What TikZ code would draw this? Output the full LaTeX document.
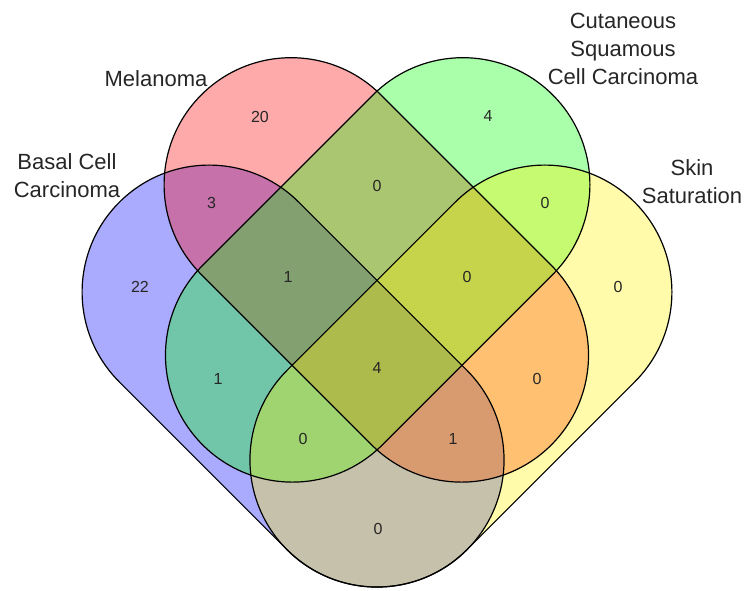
\documentclass[tikz,border=0pt]{standalone}
\usepackage{fontspec}
\setmainfont{Liberation Sans}
\usepackage{xcolor}
\usepackage{tikz}

\tikzset{
    setfill/.style={fill=#1, fill opacity=0.333},
    setline/.style={draw=black, line width=1.2pt},
    count/.style={font=\fontsize{16}{16}\selectfont, text=black!85},
    setname/.style={font=\fontsize{22}{28}\selectfont, align=center, text=black!85},
}

\begin{document}
\begin{tikzpicture}[x=1pt, y=1pt]
        \useasboundingbox (0,0) rectangle (748,590);

        % the four sets, filled in the order blue, red, green, yellow
        \foreach \cx/\cy/\ang/\len/\col in {209.1/297.9/-45/237.5/blue, 291.1/405.3/-45/241/red, 462.9/405.3/225/241/green, 544.9/297.9/225/237.5/yellow} {
            \fill[setfill=\col, shift={(\cx,\cy)}, rotate=\ang] (0,-127) -- (\len,-127) arc[start angle=-90, end angle=90, radius=127] -- (0,127) arc[start angle=90, end angle=270, radius=127] -- cycle;
        }
        \foreach \cx/\cy/\ang/\len in {209.1/297.9/-45/237.5, 291.1/405.3/-45/241, 462.9/405.3/225/241, 544.9/297.9/225/237.5} {
            \draw[setline, shift={(\cx,\cy)}, rotate=\ang] (0,-127) -- (\len,-127) arc[start angle=-90, end angle=90, radius=127] -- (0,127) arc[start angle=90, end angle=270, radius=127] -- cycle;
        }

        % set names
        \node (melanoma) [setname] at (156,511) {Melanoma};
        \node (basalCell) [setname] at (67,414) {Basal Cell\\Carcinoma};
        \node (cutaneous) [setname] at (623,541) {Cutaneous\\Squamous\\Cell Carcinoma};
        \node (skinSat) [setname] at (692,408) {Skin\\Saturation};

        % counts
        \node (onlyMel) [count] at (260,473) {20};
        \node (onlyCut) [count] at (488,474) {4};
        \node (onlyBas) [count] at (140,303) {22};
        \node (onlySkin) [count] at (618,303) {0};
        \node (melBas) [count] at (211.5,387) {3};
        \node (melCut) [count] at (377,404) {0};
        \node (cutSkin) [count] at (545,387) {0};
        \node (melCutBas) [count] at (288,313) {1};
        \node (melCutSkin) [count] at (467,313) {0};
        \node (cutBas) [count] at (218,211) {1};
        \node (allFour) [count] at (377,222) {4};
        \node (melSkin) [count] at (537,211) {0};
        \node (cutBasSkin) [count] at (303,151) {0};
        \node (melBasSkin) [count] at (453,151) {1};
        \node (basSkin) [count] at (378,61) {0};
    \end{tikzpicture}
\end{document}
